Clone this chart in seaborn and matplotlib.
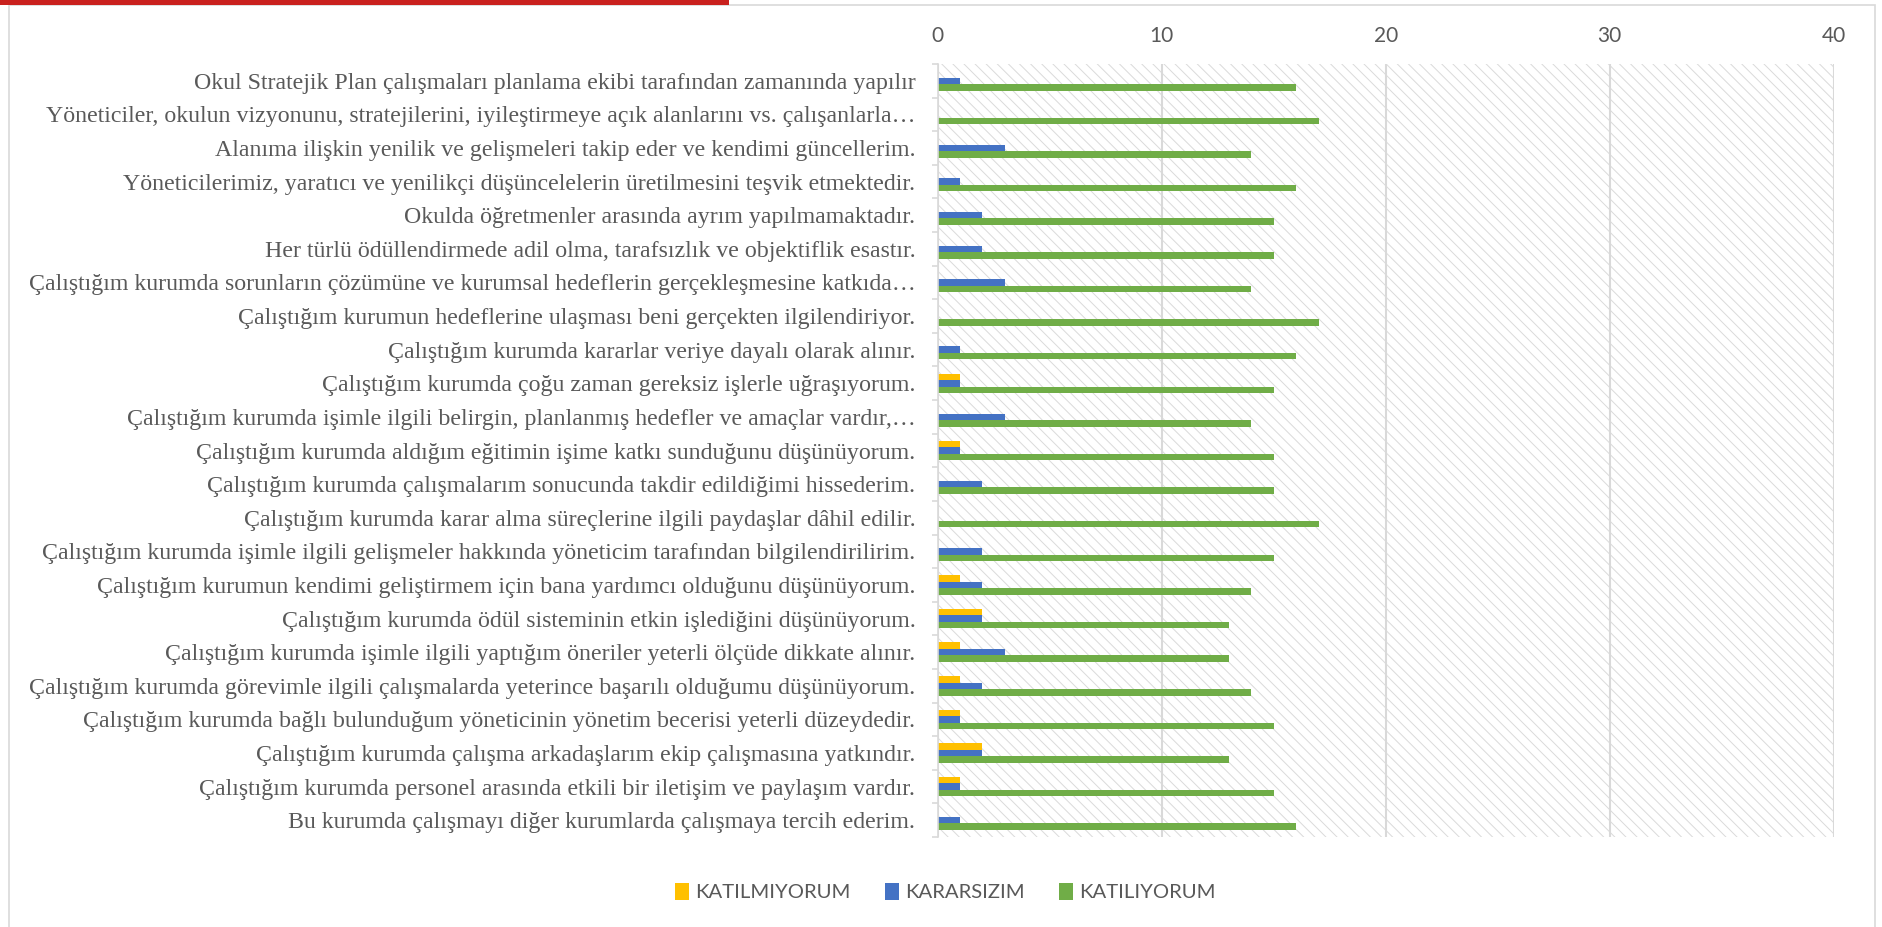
import numpy as np
import pandas as pd
import matplotlib.pyplot as plt
import seaborn as sns
from matplotlib.patches import Rectangle

# Anket maddeleri (yukaridan asagiya)
sorular = [
    "Okul Stratejik Plan çalışmaları planlama ekibi tarafından zamanında yapılır",
    "Yöneticiler, okulun vizyonunu, stratejilerini, iyileştirmeye açık alanlarını vs. çalışanlarla…",
    "Alanıma ilişkin yenilik ve gelişmeleri takip eder ve kendimi güncellerim.",
    "Yöneticilerimiz, yaratıcı ve yenilikçi düşüncelelerin üretilmesini teşvik etmektedir.",
    "Okulda öğretmenler arasında ayrım yapılmamaktadır.",
    "Her türlü ödüllendirmede adil olma, tarafsızlık ve objektiflik esastır.",
    "Çalıştığım kurumda sorunların çözümüne ve kurumsal hedeflerin gerçekleşmesine katkıda…",
    "Çalıştığım kurumun hedeflerine ulaşması beni gerçekten ilgilendiriyor.",
    "Çalıştığım kurumda kararlar veriye dayalı olarak alınır.",
    "Çalıştığım kurumda çoğu zaman gereksiz işlerle uğraşıyorum.",
    "Çalıştığım kurumda işimle ilgili belirgin, planlanmış hedefler ve amaçlar vardır,…",
    "Çalıştığım kurumda aldığım eğitimin işime katkı sunduğunu düşünüyorum.",
    "Çalıştığım kurumda çalışmalarım sonucunda takdir edildiğimi hissederim.",
    "Çalıştığım kurumda karar alma süreçlerine ilgili paydaşlar dâhil edilir.",
    "Çalıştığım kurumda işimle ilgili gelişmeler hakkında yöneticim tarafından bilgilendirilirim.",
    "Çalıştığım kurumun kendimi geliştirmem için bana yardımcı olduğunu düşünüyorum.",
    "Çalıştığım kurumda ödül sisteminin etkin işlediğini düşünüyorum.",
    "Çalıştığım kurumda işimle ilgili yaptığım öneriler yeterli ölçüde dikkate alınır.",
    "Çalıştığım kurumda görevimle ilgili çalışmalarda yeterince başarılı olduğumu düşünüyorum.",
    "Çalıştığım kurumda bağlı bulunduğum yöneticinin yönetim becerisi yeterli düzeydedir.",
    "Çalıştığım kurumda çalışma arkadaşlarım ekip çalışmasına yatkındır.",
    "Çalıştığım kurumda personel arasında etkili bir iletişim ve paylaşım vardır.",
    "Bu kurumda çalışmayı diğer kurumlarda çalışmaya tercih ederim.",
]

katilmiyorum = [0, 0, 0, 0, 0, 0, 0, 0, 0, 1, 0, 1, 0, 0, 0, 1, 2, 1, 1, 1, 2, 1, 0]
kararsizim = [1, 0, 3, 1, 2, 2, 3, 0, 1, 1, 3, 1, 2, 0, 2, 2, 2, 3, 2, 1, 2, 1, 1]
katiliyorum = [16, 17, 14, 16, 15, 15, 14, 17, 16, 15, 14, 15, 15, 17, 15, 14, 13, 13, 14, 15, 13, 15, 16]

seriler = ["KATILMIYORUM", "KARARSIZIM", "KATILIYORUM"]
renkler = ["#FFC000", "#4472C4", "#70AD47"]
x_ticks = [0, 10, 20, 30, 40]

df = pd.DataFrame({
    "soru": sorular * 3,
    "cevap": [seriler[0]] * len(sorular) + [seriler[1]] * len(sorular) + [seriler[2]] * len(sorular),
    "deger": katilmiyorum + kararsizim + katiliyorum,
})

gri = "#595959"
cizgi = "#D9D9D9"
plt.rcParams["hatch.linewidth"] = 0.7

fig = plt.figure(figsize=(18.83, 9.27), dpi=100)
ax = fig.add_axes([937.7 / 1883, 1 - 837 / 927, 896 / 1883, 773 / 927])
ax.set_facecolor("none")

# Arka plan taramasi
ax.add_patch(Rectangle((0, 0), 1, 1, transform=ax.transAxes, facecolor="white",
                       edgecolor="#DADADA", hatch="\\\\\\", linewidth=0, zorder=0))

sns.barplot(data=df, y="soru", x="deger", hue="cevap", hue_order=seriler,
            palette=renkler, saturation=1, orient="h", width=0.58, linewidth=0,
            ax=ax, zorder=2)

handles, labels = ax.get_legend_handles_labels()
ax.get_legend().remove()

ax.set_xlim(0, 40)
ax.set_ylim(len(sorular) - 0.5, -0.5)
ax.set_xticks(x_ticks)
ax.xaxis.tick_top()
ax.tick_params(axis="x", length=0, pad=13, labelsize=15, labelcolor=gri)
for t in ax.get_xticklabels():
    t.set_fontfamily("Lato")
ax.grid(axis="x", color=cizgi, linewidth=1.5, zorder=1)
ax.grid(axis="y", visible=False)

ax.set_yticks(np.arange(-0.5, len(sorular), 1), minor=True)
ax.tick_params(axis="y", which="major", length=0, pad=16, labelsize=17.2, labelcolor=gri)
ax.tick_params(axis="y", which="minor", length=4.5, width=1.2, color=cizgi)
for t in ax.get_yticklabels():
    t.set_fontfamily("Liberation Serif")

for s in ["top", "right", "bottom"]:
    ax.spines[s].set_visible(False)
ax.spines["left"].set_color(cizgi)
ax.spines["left"].set_linewidth(1.2)
ax.set_xlabel("")
ax.set_ylabel("")

fig.legend(handles, labels, loc="center", bbox_to_anchor=(0.502, 1 - 892 / 927), ncol=3,
           frameon=False, prop={"family": "Lato", "size": 14.6}, labelcolor=gri,
           handlelength=0.7, handleheight=0.9, handletextpad=0.3, columnspacing=1.7)

# Grafik cercevesi ve ustteki kirmizi serit
fig.add_artist(Rectangle((9 / 1883, -0.01), (1875 - 9) / 1883, 1.01 - 5 / 927,
                         transform=fig.transFigure, fill=False, edgecolor=cizgi, linewidth=1.2))
fig.add_artist(Rectangle((0, 1 - 5 / 927), 729 / 1883, 5 / 927, transform=fig.transFigure,
                         facecolor="#C9211E", edgecolor="none"))

fig.savefig("out.png", dpi=100)
